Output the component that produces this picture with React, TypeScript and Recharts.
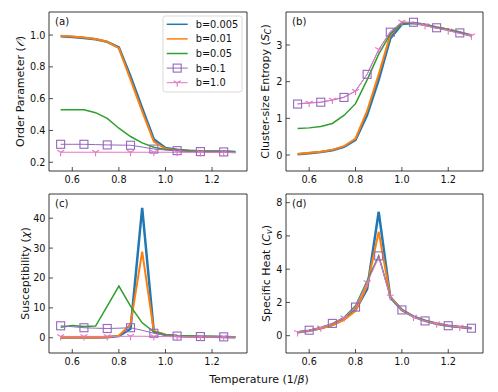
import React from 'react';
import { LineChart, Line, XAxis, YAxis, ReferenceArea } from 'recharts';

const TEMPS = [0.55, 0.6, 0.65, 0.7, 0.75, 0.8, 0.85, 0.9, 0.95, 1.0, 1.05, 1.1, 1.15, 1.2, 1.25, 1.3];
const X_DOMAIN = [0.5, 1.35];
const X_TICKS = [0.6, 0.8, 1.0, 1.2];

const SERIES_NAMES = ['b=0.005', 'b=0.01', 'b=0.05', 'b=0.1', 'b=1.0'];
const COLORS = ['#1f77b4', '#ff7f0e', '#2ca02c', '#9467bd', '#e377c2'];
const WIDTHS = [2.5, 2, 1.5, 1, 1];

// (a) Order parameter
const ORDER_B0005 = [0.993, 0.988, 0.982, 0.973, 0.957, 0.922, 0.74, 0.54, 0.345, 0.29, 0.278, 0.273, 0.27, 0.268, 0.267, 0.265];
const ORDER_B001 = [0.996, 0.991, 0.985, 0.975, 0.958, 0.918, 0.72, 0.52, 0.33, 0.285, 0.276, 0.272, 0.269, 0.267, 0.266, 0.265];
const ORDER_B005 = [0.53, 0.53, 0.53, 0.512, 0.476, 0.414, 0.362, 0.322, 0.294, 0.28, 0.275, 0.272, 0.27, 0.268, 0.267, 0.266];
const ORDER_B01 = [0.313, 0.313, 0.313, 0.311, 0.309, 0.308, 0.307, 0.296, 0.283, 0.277, 0.273, 0.27, 0.267, 0.266, 0.265, 0.264];
const ORDER_B1 = [0.263, 0.263, 0.263, 0.263, 0.263, 0.263, 0.263, 0.263, 0.263, 0.263, 0.263, 0.262, 0.262, 0.262, 0.262, 0.262];

// (b) Cluster-size entropy
const ENT_B0005 = [0.02, 0.05, 0.08, 0.13, 0.22, 0.41, 1.09, 2.05, 3.18, 3.57, 3.6, 3.55, 3.48, 3.42, 3.34, 3.26];
const ENT_B001 = [0.03, 0.06, 0.09, 0.14, 0.24, 0.45, 1.2, 2.2, 3.28, 3.6, 3.6, 3.55, 3.48, 3.42, 3.34, 3.26];
const ENT_B005 = [0.72, 0.74, 0.78, 0.86, 1.08, 1.4, 2.05, 2.75, 3.3, 3.58, 3.6, 3.55, 3.48, 3.42, 3.34, 3.26];
const ENT_B01 = [1.39, 1.42, 1.44, 1.5, 1.57, 1.75, 2.2, 2.87, 3.35, 3.62, 3.62, 3.55, 3.47, 3.4, 3.33, 3.27];
const ENT_B1 = [1.4, 1.42, 1.44, 1.5, 1.58, 1.74, 2.2, 2.88, 3.37, 3.63, 3.6, 3.53, 3.46, 3.39, 3.32, 3.25];

// (c) Susceptibility
const SUS_B0005 = [0.1, 0.1, 0.1, 0.12, 0.2, 0.6, 3.0, 43.5, 2.0, 0.9, 0.6, 0.45, 0.35, 0.3, 0.25, 0.2];
const SUS_B001 = [0.1, 0.1, 0.1, 0.12, 0.2, 0.7, 4.5, 28.8, 2.3, 1.0, 0.6, 0.45, 0.35, 0.3, 0.25, 0.2];
const SUS_B005 = [3.5, 4.1, 3.8, 3.9, 10.6, 17.3, 10.6, 5.0, 2.0, 1.0, 0.75, 0.6, 0.5, 0.4, 0.35, 0.3];
const SUS_B01 = [4.0, 3.7, 3.35, 3.2, 3.1, 3.2, 3.35, 2.5, 1.5, 0.9, 0.57, 0.45, 0.4, 0.35, 0.3, 0.25];
const SUS_B1 = [0.45, 0.45, 0.45, 0.45, 0.45, 0.45, 0.5, 0.5, 0.45, 0.4, 0.35, 0.3, 0.3, 0.25, 0.25, 0.2];

// (d) Specific heat
const HEAT_B0005 = [0.2, 0.3, 0.45, 0.65, 1.0, 1.55, 2.8, 7.45, 2.3, 1.55, 1.15, 0.9, 0.72, 0.6, 0.52, 0.45];
const HEAT_B001 = [0.2, 0.3, 0.45, 0.63, 0.95, 1.5, 3.0, 6.25, 2.35, 1.55, 1.15, 0.9, 0.72, 0.6, 0.52, 0.45];
const HEAT_B005 = [0.22, 0.32, 0.5, 0.72, 1.1, 1.8, 3.3, 4.8, 2.35, 1.55, 1.15, 0.9, 0.72, 0.6, 0.52, 0.45];
const HEAT_B01 = [0.22, 0.33, 0.48, 0.74, 1.08, 1.72, 3.2, 4.8, 2.35, 1.55, 1.15, 0.89, 0.72, 0.6, 0.52, 0.45];
const HEAT_B1 = [0.2, 0.32, 0.48, 0.72, 1.08, 1.72, 3.2, 4.7, 2.35, 1.55, 1.12, 0.88, 0.72, 0.6, 0.52, 0.45];

const FONT = 'DejaVu Sans, sans-serif';
const INK = '#111';
const SPINE = '#222';

const buildRows = (cols: number[][]) =>
  TEMPS.map((t, i) => ({ t, s0: cols[0][i], s1: cols[1][i], s2: cols[2][i], s3: cols[3][i], s4: cols[4][i] }));

const renderXTick = (props: any) => {
  const { x, y, payload } = props;
  return (
    <g key={`xt-${payload.value}`}>
      <line x1={x} x2={x} y1={y} y2={y - 4} stroke={SPINE} strokeWidth={0.8} />
      <text x={x} y={y + 12} textAnchor="middle" fontSize={9.7} fill={INK} fontFamily={FONT}>
        {Number(payload.value).toFixed(1)}
      </text>
    </g>
  );
};

const makeYTick = (digits: number) => (props: any) => {
  const { x, y, payload } = props;
  return (
    <g key={`yt-${payload.value}`}>
      <line x1={x} x2={x + 4} y1={y} y2={y} stroke={SPINE} strokeWidth={0.8} />
      <text x={x - 3.5} y={y + 3.5} textAnchor="end" fontSize={9.7} fill={INK} fontFamily={FONT}>
        {Number(payload.value).toFixed(digits)}
      </text>
    </g>
  );
};

const squareShape = (cx: number, cy: number, key: string) => (
  <rect key={key} x={cx - 4} y={cy - 4} width={8} height={8} fill="none" stroke={COLORS[3]} strokeWidth={1.1} />
);
const triShape = (cx: number, cy: number, key: string) => (
  <g key={key} stroke={COLORS[4]} strokeWidth={1.1}>
    <line x1={cx} y1={cy} x2={cx} y2={cy + 4} />
    <line x1={cx} y1={cy} x2={cx - 3.5} y2={cy - 2} />
    <line x1={cx} y1={cy} x2={cx + 3.5} y2={cy - 2} />
  </g>
);

const makeDot = (marks: number[], shape: (cx: number, cy: number, key: string) => any, tag: string) => (p: any) => {
  const { cx, cy, index } = p;
  const key = `${tag}-${index}`;
  if (!marks.includes(index) || cx == null || cy == null) return <g key={key} />;
  return shape(cx, cy, key);
};

const EVEN = [0, 2, 4, 6, 8, 10, 12, 14];
const ODD = [1, 3, 5, 7, 9, 11, 13, 15];

const PANELS = [
  {
    id: 'a',
    rows: buildRows([ORDER_B0005, ORDER_B001, ORDER_B005, ORDER_B01, ORDER_B1]),
    yDomain: [0.145, 1.145], yTicks: [0.2, 0.4, 0.6, 0.8, 1.0], digits: 1,
    margin: { top: 12, right: 251, bottom: 220, left: 48 },
    purpleMarks: EVEN, pinkMarks: [0, 3, 6, 8, 10, 12, 14],
    label: { x: 20, y: 91.5 }, letter: { x: 55, y: 25 }, legend: true,
  },
  {
    id: 'b',
    rows: buildRows([ENT_B0005, ENT_B001, ENT_B005, ENT_B01, ENT_B1]),
    yDomain: [-0.436, 3.9], yTicks: [0, 1, 2, 3], digits: 0,
    margin: { top: 12, right: 15, bottom: 220, left: 285 },
    purpleMarks: EVEN, pinkMarks: ODD,
    label: { x: 265, y: 91.5 }, letter: { x: 292, y: 25 }, legend: false,
  },
  {
    id: 'c',
    rows: buildRows([SUS_B0005, SUS_B001, SUS_B005, SUS_B01, SUS_B1]),
    yDomain: [-5.1, 48.1], yTicks: [0, 10, 20, 30, 40], digits: 0,
    margin: { top: 194, right: 251, bottom: 38, left: 48 },
    purpleMarks: EVEN, pinkMarks: EVEN,
    label: { x: 25, y: 273.5 }, letter: { x: 55, y: 207 }, legend: false,
  },
  {
    id: 'd',
    rows: buildRows([HEAT_B0005, HEAT_B001, HEAT_B005, HEAT_B01, HEAT_B1]),
    yDomain: [-1.04, 8.52], yTicks: [0, 2, 4, 6, 8], digits: 0,
    margin: { top: 194, right: 15, bottom: 38, left: 285 },
    purpleMarks: ODD, pinkMarks: EVEN,
    label: { x: 266, y: 273.5 }, letter: { x: 292, y: 207 }, legend: false,
  },
];

const YTitle = ({ id }: { id: string }) => {
  if (id === 'a') return <>Order Parameter (<tspan fontStyle="italic">𝒪</tspan>)</>;
  if (id === 'b')
    return (
      <>
        Cluster-size Entropy (<tspan fontStyle="italic">S</tspan>
        <tspan fontStyle="italic" fontSize={8} dy={2.5}>C</tspan>
        <tspan dy={-2.5}>)</tspan>
      </>
    );
  if (id === 'c') return <>Susceptibility (<tspan fontStyle="italic">χ</tspan>)</>;
  return (
    <>
      Specific Heat (<tspan fontStyle="italic">C</tspan>
      <tspan fontStyle="italic" fontSize={8} dy={2.5}>v</tspan>
      <tspan dy={-2.5}>)</tspan>
    </>
  );
};

const LegendBox = () => {
  const x0 = 163;
  const y0 = 16;
  return (
    <g>
      <rect x={x0} y={y0} width={79} height={76} rx={2.5} fill="#fff" fillOpacity={0.85} stroke="#d0d0d0" strokeWidth={0.8} />
      {SERIES_NAMES.map((name, i) => {
        const cy = y0 + 8.3 + i * 14.6;
        return (
          <g key={name}>
            <line x1={x0 + 3.7} x2={x0 + 24.7} y1={cy} y2={cy} stroke={COLORS[i]} strokeWidth={WIDTHS[i] === 1 ? 1 : 1.5} />
            {i === 3 ? squareShape(x0 + 14.2, cy, 'lg-sq') : null}
            {i === 4 ? triShape(x0 + 14.2, cy, 'lg-tri') : null}
            <text x={x0 + 32.7} y={cy + 3.5} fontSize={9.8} fill={INK} fontFamily={FONT}>{name}</text>
          </g>
        );
      })}
    </g>
  );
};

const Panel = ({ p }: { p: any }) => (
  <div style={{ position: 'absolute', left: 0, top: 0 }}>
    <LineChart width={498} height={392} data={p.rows} margin={p.margin}>
      <XAxis
        dataKey="t" type="number" domain={X_DOMAIN} ticks={X_TICKS} allowDataOverflow
        height={1} tickSize={0} tickMargin={0} tickLine={false} axisLine={false} interval={0}
        tick={renderXTick}
      />
      <YAxis
        type="number" domain={p.yDomain} ticks={p.yTicks} allowDataOverflow
        width={1} tickSize={0} tickMargin={0} tickLine={false} axisLine={false} interval={0}
        tick={makeYTick(p.digits)}
      />
      <ReferenceArea x1={X_DOMAIN[0]} x2={X_DOMAIN[1]} y1={p.yDomain[0]} y2={p.yDomain[1]} fill="none" stroke={SPINE} strokeWidth={0.9} ifOverflow="visible" />
      {[0, 1, 2].map((k) => (
        <Line key={k} type="linear" dataKey={`s${k}`} stroke={COLORS[k]} strokeWidth={WIDTHS[k]} dot={false} activeDot={false} isAnimationActive={false} />
      ))}
      <Line type="linear" dataKey="s3" stroke={COLORS[3]} strokeWidth={1} dot={makeDot(p.purpleMarks, squareShape, `sq${p.id}`)} activeDot={false} isAnimationActive={false} />
      <Line type="linear" dataKey="s4" stroke={COLORS[4]} strokeWidth={1} dot={makeDot(p.pinkMarks, triShape, `tr${p.id}`)} activeDot={false} isAnimationActive={false} />
      <text x={p.letter.x} y={p.letter.y} fontSize={10.2} fill={INK} fontFamily={FONT}>({p.id})</text>
      <text
        x={p.label.x} y={p.label.y} transform={`rotate(-90, ${p.label.x}, ${p.label.y})`}
        textAnchor="middle" dominantBaseline="central" fontSize={11} fill={INK} fontFamily={FONT}
      >
        <YTitle id={p.id} />
      </text>
      {p.legend ? <LegendBox /> : null}
      {p.id === 'c' ? (
        <text x={259} y={383} textAnchor="middle" fontSize={11} fill={INK} fontFamily={FONT}>
          Temperature (1/<tspan fontStyle="italic">β</tspan>)
        </text>
      ) : null}
    </LineChart>
  </div>
);

export default function App() {
  return (
    <div style={{ position: 'absolute', left: 0, top: 0, width: 498, height: 392, background: '#fff', fontFamily: FONT }}>
      {PANELS.map((p) => (
        <Panel key={p.id} p={p} />
      ))}
    </div>
  );
}
